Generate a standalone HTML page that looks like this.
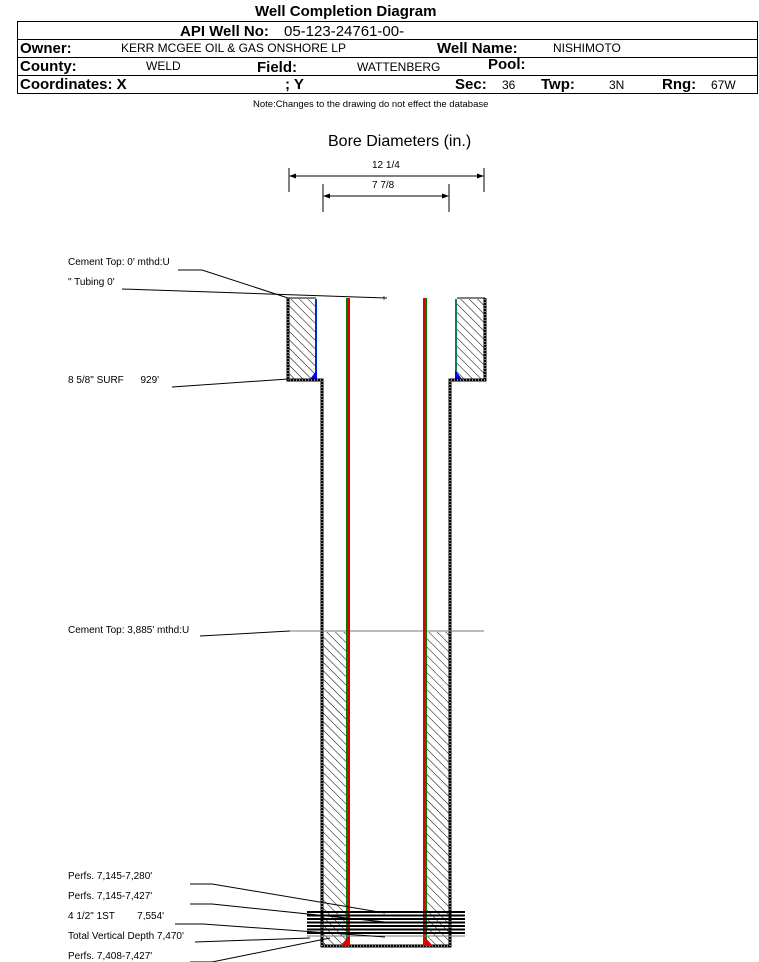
<!DOCTYPE html>
<html><head><meta charset="utf-8"><style>
body{margin:0;width:759px;height:962px;background:#fff;font-family:"Liberation Sans",sans-serif;position:relative;overflow:hidden}
.t{position:absolute;white-space:nowrap;color:#000}
.b{font-weight:bold;font-size:15px}
.n{font-size:12px}
.s{font-size:10px}
</style></head><body>
<div class="t" style="left:255px;top:3px;font-weight:bold;font-size:15px">Well Completion Diagram</div>
<div style="position:absolute;left:17px;top:21px;width:739px;height:71px;border:1px solid #000"></div>
<div style="position:absolute;left:17px;top:39px;width:740px;border-top:1px solid #000"></div>
<div style="position:absolute;left:17px;top:57px;width:740px;border-top:1px solid #000"></div>
<div style="position:absolute;left:17px;top:75px;width:740px;border-top:1px solid #000"></div>
<div class="t b" style="left:180px;top:23px">API Well No:</div>
<div class="t" style="left:284px;top:23px;font-size:15px">05-123-24761-00-</div>
<div class="t b" style="left:20px;top:40px">Owner:</div>
<div class="t n" style="left:121px;top:41px">KERR MCGEE OIL &amp; GAS ONSHORE LP</div>
<div class="t b" style="left:437px;top:40px">Well Name:</div>
<div class="t n" style="left:553px;top:41px">NISHIMOTO</div>
<div class="t b" style="left:20px;top:58px">County:</div>
<div class="t n" style="left:146px;top:59px">WELD</div>
<div class="t b" style="left:257px;top:59px">Field:</div>
<div class="t n" style="left:357px;top:60px">WATTENBERG</div>
<div class="t b" style="left:488px;top:56px">Pool:</div>
<div class="t b" style="left:20px;top:76px">Coordinates: X</div>
<div class="t b" style="left:285px;top:76px">; Y</div>
<div class="t b" style="left:455px;top:76px">Sec:</div>
<div class="t n" style="left:502px;top:78px">36</div>
<div class="t b" style="left:541px;top:76px">Twp:</div>
<div class="t n" style="left:609px;top:78px">3N</div>
<div class="t b" style="left:662px;top:76px">Rng:</div>
<div class="t n" style="left:711px;top:78px">67W</div>
<div class="t" style="left:253px;top:99px;font-size:9.5px">Note:Changes to the drawing do not effect the database</div>
<div class="t" style="left:328px;top:133px;font-size:16px">Bore Diameters (in.)</div>
<div class="t s" style="left:372px;top:160px">12 1/4</div>
<div class="t s" style="left:372px;top:180px">7 7/8</div>
<div class="t s" style="left:68px;top:257px">Cement Top: 0' mthd:U</div>
<div class="t s" style="left:68px;top:277px">" Tubing 0'</div>
<div class="t s" style="left:68px;top:375px">8 5/8" SURF&nbsp;&nbsp;&nbsp;&nbsp;&nbsp;&nbsp;929'</div>
<div class="t s" style="left:68px;top:625px">Cement Top: 3,885' mthd:U</div>
<div class="t s" style="left:68px;top:871px">Perfs. 7,145-7,280'</div>
<div class="t s" style="left:68px;top:891px">Perfs. 7,145-7,427'</div>
<div class="t s" style="left:68px;top:911px">4 1/2" 1ST&nbsp;&nbsp;&nbsp;&nbsp;&nbsp;&nbsp;&nbsp;&nbsp;7,554'</div>
<div class="t s" style="left:68px;top:931px">Total Vertical Depth 7,470'</div>
<div class="t s" style="left:68px;top:951px">Perfs. 7,408-7,427'</div>
<svg width="759" height="962" style="position:absolute;left:0;top:0">
<defs>
<pattern id="h" width="6" height="6" patternUnits="userSpaceOnUse" patternTransform="rotate(-45)">
<line x1="0" y1="0" x2="0" y2="6" stroke="#000" stroke-width="1"/></pattern>
</defs>
<g stroke="#000" stroke-width="1" fill="none">
<line x1="289" y1="168" x2="289" y2="192"/><line x1="484" y1="168" x2="484" y2="192"/>
<line x1="291" y1="176" x2="482" y2="176"/>
<line x1="323" y1="184" x2="323" y2="212"/><line x1="449" y1="184" x2="449" y2="212"/>
<line x1="325" y1="196" x2="447" y2="196"/>
</g>
<g fill="#000"><path d="M289,176 l7,-2.5 v5z"/><path d="M484,176 l-7,-2.5 v5z"/><path d="M323,196 l7,-2.5 v5z"/><path d="M449,196 l-7,-2.5 v5z"/></g>
<rect x="288" y="299" width="28" height="80" fill="url(#h)"/>
<rect x="457" y="299" width="28" height="80" fill="url(#h)"/>
<line x1="316" y1="299" x2="316" y2="379" stroke="#0030c0" stroke-width="2"/>
<line x1="456" y1="299" x2="456" y2="379" stroke="#1a7a50" stroke-width="2"/>
<path d="M310,379 L317,379 L317,370Z" fill="#0000ff"/>
<path d="M462,379 L455,379 L455,370Z" fill="#0000ff"/>
<g stroke="#000" stroke-width="3" fill="none">
<path d="M288,298 V380 H322 V946 H450 V380 H485 V298"/>
</g>
<g stroke="#fff" stroke-width="1" stroke-dasharray="1,2" fill="none">
<path d="M288,298 V380 H322 V946 H450 V380 H485 V298"/>
</g>
<line x1="316" y1="298" x2="288" y2="298" stroke="#000"/>
<line x1="457" y1="298" x2="485" y2="298" stroke="#000"/>
<rect x="323" y="632" width="24" height="313" fill="url(#h)"/>
<rect x="426" y="632" width="24" height="313" fill="url(#h)"/>
<line x1="290" y1="631" x2="484" y2="631" stroke="#777" stroke-width="1"/>
<rect x="346" y="298" width="2" height="648" fill="#008000"/>
<rect x="348" y="298" width="2" height="648" fill="#e00000"/>
<rect x="423" y="298" width="2" height="648" fill="#e00000"/>
<rect x="425" y="298" width="2" height="648" fill="#008000"/>
<path d="M340,946 L350,946 L350,935Z" fill="#e00000"/>
<path d="M423,935 L423,946 L433,946Z" fill="#e00000"/>
<line x1="384" y1="296" x2="384" y2="300" stroke="#008000"/>
<g stroke="#000" stroke-width="2">
<line x1="307" y1="912" x2="465" y2="912"/><line x1="307" y1="915.5" x2="465" y2="915.5"/>
<line x1="307" y1="919" x2="465" y2="919"/><line x1="307" y1="922.5" x2="465" y2="922.5"/>
<line x1="307" y1="926" x2="465" y2="926"/><line x1="307" y1="929.5" x2="465" y2="929.5"/>
<line x1="307" y1="933" x2="465" y2="933"/>
</g>
<line x1="307" y1="936" x2="465" y2="936" stroke="#777"/>
<g stroke="#000" stroke-width="1" fill="none">
<polyline points="178,270 202,270 288,298"/>
<polyline points="122,289 387,298"/>
<polyline points="172,387 288,379"/>
<polyline points="200,636 290,631"/>
<polyline points="190,884 212,884 385,913"/>
<polyline points="190,904 212,904 385,922"/>
<polyline points="175,924 203,924 385,937"/>
<polyline points="195,942 310,938"/>
<polyline points="190,962 212,962 330,938"/>
</g>
</svg>
</body></html>
